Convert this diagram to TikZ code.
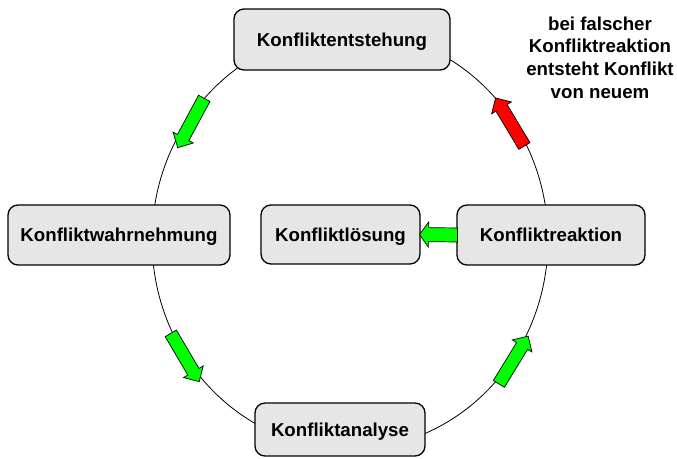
\documentclass[tikz,border=0pt]{standalone}
\usepackage{fontspec}
\setmainfont{Liberation Sans}
\definecolor{boxgray}{HTML}{E6E6E6}
\definecolor{arrowgreen}{HTML}{00FF00}
\definecolor{arrowred}{HTML}{FF0000}
\tikzset{
  phase/.style={draw=black, line width=1.3pt, fill=boxgray, rounded corners=10pt,
    inner sep=0pt, text height=13.4pt, text depth=0pt,
    font=\bfseries\fontsize{18.67}{22.7}\selectfont},
  note/.style={inner sep=0pt, align=center,
    font=\bfseries\fontsize{18.67}{22.7}\selectfont},
  ring/.style={draw=black, line width=0.8pt},
  flowarrow/.style={draw=black, line width=0.7pt, fill=arrowgreen},
  backarrow/.style={draw=black, line width=0.7pt, fill=arrowred},
  pics/blockarrow/.style args={#1/#2/#3/#4}{code={
    \pgfmathsetmacro\arrA{#1/2}
    \pgfmathsetmacro\arrB{#2/2}
    \pgfmathsetmacro\arrC{#3/2}
    \pgfmathsetmacro\arrD{#1/2-#4}
    \path[pic actions] (-\arrA,-\arrB) -- (\arrD,-\arrB) -- (\arrD,-\arrC) -- (\arrA,0)
      -- (\arrD,\arrC) -- (\arrD,\arrB) -- (-\arrA,\arrB) -- cycle;
  }}
}
\begin{document}
\begin{tikzpicture}[x=1pt,y=-1pt]
\useasboundingbox (0,0) rectangle (677,458);
% ring
\draw[ring] (350,240) ellipse [x radius=198pt, y radius=209pt];
% phases
\node[phase, minimum width=216pt, minimum height=61pt] (ent) at (342,39.5) {Konfliktentstehung};
\node[phase, minimum width=222pt, minimum height=60pt] (wahr) at (119,235) {Konfliktwahrnehmung};
\node[phase, minimum width=159pt, minimum height=59pt] (loes) at (340.5,234.5) {Konfliktlösung};
\node[phase, minimum width=188pt, minimum height=60pt] (reak) at (551,235) {Konfliktreaktion};
\node[phase, minimum width=170pt, minimum height=53pt] (ana) at (340,429.5) {Konfliktanalyse};
% note
\node[note, anchor=north] (note) at (600,16.5) {bei falscher\\Konfliktreaktion\\entsteht Konflikt\\von neuem};
% block arrows on the ring
\pic[flowarrow, rotate=241.7] (a1) at (191,123) {blockarrow={56/13/23/11.5}};
\pic[flowarrow, rotate=-59.5] (a2) at (185,357.5) {blockarrow={56/13/23/11.5}};
\pic[flowarrow, rotate=58.5] (a3) at (513.5,360) {blockarrow={56/13/23/11.5}};
\pic[backarrow, rotate=121] (a4) at (510,122) {blockarrow={56/13/23/11.5}};
% reaction -> solution
\path (reak.west) -- (loes.east) pic[pos=0.5, sloped, allow upside down, flowarrow] {blockarrow={38/14/25/9}};
\end{tikzpicture}
\end{document}
